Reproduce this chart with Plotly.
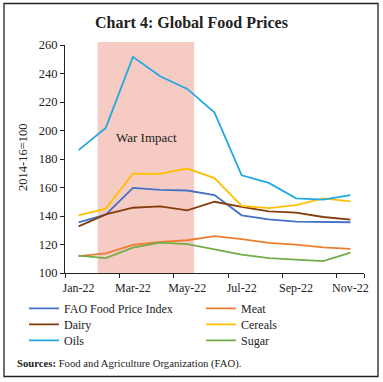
import plotly.graph_objects as go

months = ["Jan-22", "Feb-22", "Mar-22", "Apr-22", "May-22", "Jun-22",
          "Jul-22", "Aug-22", "Sep-22", "Oct-22", "Nov-22"]
fao = [135.6, 141.0, 159.7, 158.3, 157.9, 154.7, 140.5, 137.6, 136.1, 135.6, 135.6]
meat = [111.9, 113.8, 119.7, 121.8, 123.0, 125.9, 123.7, 121.1, 119.9, 118.0, 116.9]
dairy = [132.7, 141.1, 145.8, 146.8, 144.0, 150.0, 146.4, 143.2, 142.4, 139.3, 137.5]
cereals = [140.5, 145.2, 169.8, 169.6, 173.3, 166.6, 147.1, 145.5, 147.7, 152.3, 150.3]
oils = [186.2, 201.8, 251.7, 238.1, 229.2, 212.6, 168.6, 163.2, 152.4, 151.5, 154.6]
sugar = [112.2, 110.5, 117.8, 121.3, 120.2, 116.6, 112.9, 110.5, 109.6, 108.4, 114.3]

series = [
    ("FAO Food Price Index", fao, "#4472C4", "legend"),
    ("Meat", meat, "#ED7D31", "legend"),
    ("Dairy", dairy, "#843C0C", "legend2"),
    ("Cereals", cereals, "#FFC000", "legend2"),
    ("Oils", oils, "#23A9E1", "legend3"),
    ("Sugar", sugar, "#70AD47", "legend3"),
]

FONT = "Liberation Serif"

fig = go.Figure()
for name, vals, col, lg in series:
    fig.add_trace(go.Scatter(x=months, y=vals, name=name, mode="lines", legend=lg,
                             line=dict(color=col, width=1.8)))

L, R, T, B = 65, 19, 45, 109
W, H = 383, 382
pw, ph = W - L - R, H - T - B

def px_x(x):
    return (x - L) / pw

def px_y(y):
    return (H - B - y) / ph

shapes = [
    dict(type="rect", xref="x", yref="paper", x0=0.7, x1=4.25, y0=0, y1=px_y(42),
         fillcolor="#F6CBC3", line=dict(width=0), layer="below"),
    dict(type="rect", xref="paper", yref="paper", x0=px_x(4), x1=px_x(378),
         y0=px_y(376.5), y1=px_y(3.5), line=dict(color="#222", width=1.3),
         fillcolor="rgba(0,0,0,0)", layer="above"),
]

def legend_row(center_y):
    return dict(orientation="h", x=px_x(24), y=px_y(center_y - 16), xanchor="left",
                yanchor="top", entrywidth=132, entrywidthmode="pixels",
                font=dict(family=FONT, size=12, color="#222"),
                bgcolor="rgba(0,0,0,0)", itemwidth=30)

fig.update_layout(
    width=W, height=H,
    margin=dict(l=L, r=R, t=T, b=B, autoexpand=False),
    paper_bgcolor="white", plot_bgcolor="white",
    font=dict(family=FONT, size=12, color="#222"),
    title=dict(text="<b>Chart 4: Global Food Prices</b>", x=0.5, xref="container",
               xanchor="center", y=1 - 22 / H, yanchor="middle",
               font=dict(family=FONT, size=16, color="#222")),
    shapes=shapes,
    showlegend=True,
    legend=legend_row(309.8),
    legend2=legend_row(325.8),
    legend3=legend_row(341.8),
    xaxis=dict(type="category", categoryorder="array", categoryarray=months,
               range=[-0.5, 10.5], tickmode="array", tickvals=months[::2],
               tickson="boundaries", ticks="outside", ticklen=4, tickcolor="#222",
               tickangle=0, automargin=False, ticklabelstandoff=4,
               showline=True, linecolor="#222", linewidth=1, showgrid=False,
               tickfont=dict(size=12), fixedrange=True),
    yaxis=dict(range=[100, 260], tickvals=list(range(100, 261, 20)), ticks="outside",
               ticklen=4, tickcolor="#222", showline=True, linecolor="#222", linewidth=1,
               automargin=False,
               showgrid=False, zeroline=False, tickfont=dict(size=12.5), fixedrange=True),
    annotations=[
        dict(text="War Impact", xref="x", yref="y", x=2.5, y=195, showarrow=False,
             font=dict(size=13, color="#222")),
        dict(text="2014-16=100", xref="paper", yref="paper", x=px_x(23), y=px_y(158),
             xanchor="center", yanchor="middle",
             textangle=-90, showarrow=False, font=dict(size=12.5, color="#222")),
        dict(text="<b>Sources:</b> Food and Agriculture Organization (FAO).",
             xref="paper", yref="paper", x=px_x(15), y=px_y(363), xanchor="left",
             yanchor="middle", showarrow=False, font=dict(size=10.7, color="#222")),
    ],
)

fig.write_html("out.html", config={"displayModeBar": False},
               post_script="document.body.style.margin='0';document.body.style.overflow='hidden';")
